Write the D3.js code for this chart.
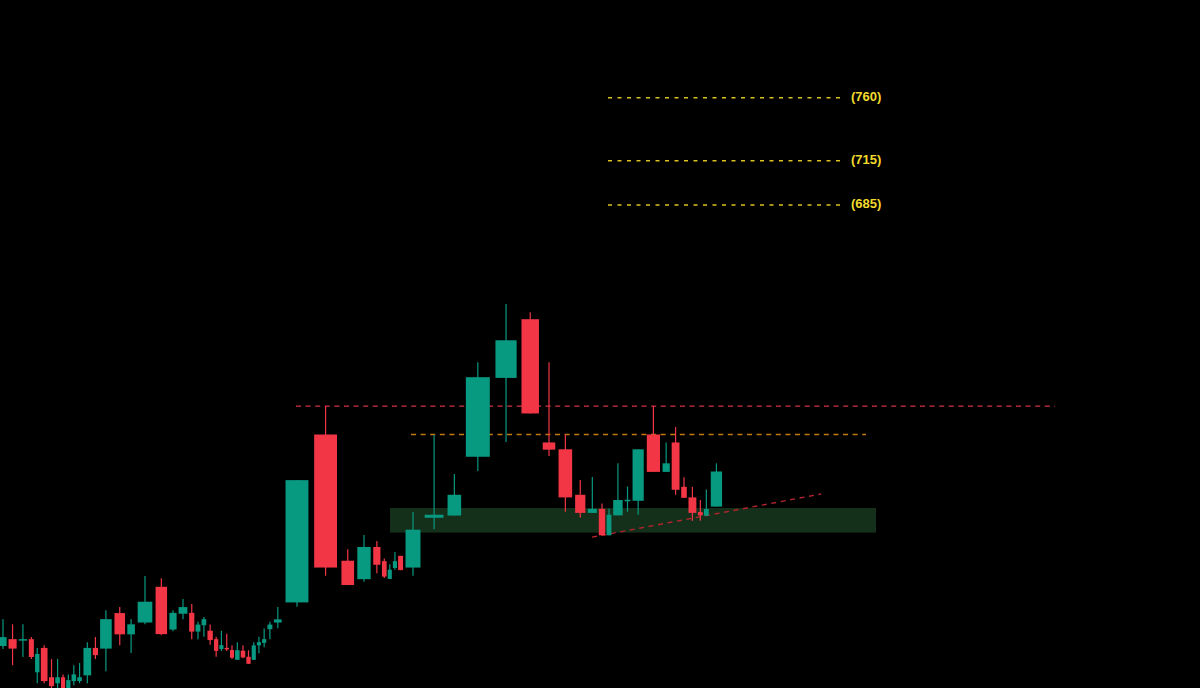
<!DOCTYPE html>
<html><head><meta charset="utf-8">
<script src="https://cdn.jsdelivr.net/npm/d3@7"></script>
<style>html,body{margin:0;padding:0;background:#000;overflow:hidden}</style>
</head><body><svg id="chart" width="1200" height="688"></svg>
<script>
// Equivolume candles: width of each candle follows its volume
const volume=[9,10.15,10.55,6.3,5.5,8.35,6.35,5.8,5.15,5.35,5.65,5.85,9.65,6.5,14.5,13.2,9.5,18.3,14.35,9,11,6.5,6,5.8,6.7,5.3,5.2,5.5,5,5.65,5.65,5.4,5.15,5.15,5.3,6.2,9.65,28.65,28.55,15.8,16.7,9,5.85,5.15,5.15,6.15,18.7,23.5,17,29.95,26.5,21.85,15.7,17,12.8,11.35,8,6,11.85,7.3,14,16.5,9.05,9.8,7,9.85,6,6,14.15];
const open=[446.9,449.9,449.5,449.9,435.7,446.1,433.6,431.1,433.6,429.1,432.0,432.0,434.4,446.1,445.8,461.4,452.0,457.2,473.3,454.1,461.1,461.5,453.2,456.0,453.6,449.9,445.6,446.1,445.2,441.0,444.9,442.3,441.0,447.2,448.3,454.3,457.2,466.2,548.5,485.4,476.8,491.9,485.2,476.9,482.0,487.7,482.2,506.0,507.1,536.8,579.4,613.3,544.3,540.7,517.4,508.4,510.4,497.5,507.2,514.6,514.4,548.5,529.0,544.3,521.4,516.1,508.8,507.0,511.5];
const high=[458.7,456.4,456.4,450.8,446.1,447.3,441.3,441.3,434.8,434.8,438.7,439.6,448.6,450.8,462.7,464.1,458.7,478.3,477.2,462.7,467.7,465.5,457.5,459.6,456.3,450.9,453.6,452.3,447.3,448.6,447.3,445.1,448.6,451.0,454.6,457.5,464.1,524.8,563.8,490.8,497.6,494.7,486.5,483.8,489.5,487.7,508.8,548.3,527.9,588.3,622.4,617.5,588.3,548.7,524.9,526.4,513.1,510.4,533.4,521.6,540.7,563.8,544.3,552.5,526.3,521.4,514.8,520.0,533.4];
const low=[445.6,438.7,442.2,441.3,431.1,431.1,429.1,428.3,428.3,428.3,430.3,431.1,431.1,441.3,436.1,447.3,443.9,456.4,451.7,453.4,458.7,449.9,449.9,451.0,447.5,442.3,444.8,444.8,441.3,440.9,441.7,439.2,440.9,443.8,446.4,449.9,454.7,464.2,478.4,474.1,475.6,479.6,477.4,476.9,481.2,481.0,478.4,500.4,507.1,529.5,544.5,559.8,537.2,509.0,506.1,508.4,497.5,497.5,507.2,509.0,507.5,529.0,529.0,517.4,515.9,504.5,504.5,507.0,511.5];
const close=[450.8,445.8,449.9,442.2,443.5,432.0,429.9,433.6,429.1,432.4,434.8,433.6,446.1,443.0,458.7,452.0,456.4,466.5,452.1,461.5,464.1,453.2,456.3,458.7,449.5,444.8,447.3,445.6,441.9,445.1,442.0,439.3,447.2,448.6,449.9,456.3,458.6,524.8,482.2,474.1,491.9,483.5,478.0,481.2,485.2,481.0,500.2,507.5,517.4,579.8,600.9,559.8,540.5,516.1,508.4,510.4,497.5,507.5,514.8,514.9,540.7,529.0,533.4,519.9,515.9,508.4,507.2,510.3,529.2];

// Price targets (top right)
const targetLevels=[760,715,685];
const targetLabels=["(760)","(715)","(685)"];
// Annotation levels (price) and anchor positions (cumulative-volume units)
const resistanceLevel=563.8, resistanceSpan=[297.5,1056.5];
const pivotLevel=548.5, pivotSpan=[412.5,867.5];
const demandZone=[498.8,510.8], zoneSpan=[391.5,877.5];
const trendStart=[593.5,496.6], trendEnd=[822.5,517.8];
const targetSpan=[609.5,841.5], targetLabelAt=852.5;

const W=1200,H=688;
const svg=d3.select("#chart");
svg.append("rect").attr("width",W).attr("height",H).attr("fill","#000");

const cum=[0];
volume.forEach(v=>cum.push(cum[cum.length-1]+v));
const total=cum[cum.length-1];
const x=d3.scaleLinear().domain([0,total]).range([-1.5,-1.5+total]);
const y=d3.scaleLog().domain([760,685]).range([97.7,205]);

const candles=volume.map((v,i)=>({v,start:cum[i],o:open[i],h:high[i],l:low[i],c:close[i]}));

// demand zone
svg.append("rect")
  .attr("x",x(zoneSpan[0])).attr("width",x(zoneSpan[1])-x(zoneSpan[0]))
  .attr("y",y(demandZone[1])).attr("height",y(demandZone[0])-y(demandZone[1]))
  .attr("fill","#15301a");

// resistance line
svg.append("line")
  .attr("x1",x(resistanceSpan[0])).attr("x2",x(resistanceSpan[1]))
  .attr("y1",y(resistanceLevel)).attr("y2",y(resistanceLevel))
  .attr("stroke","#d23440").attr("stroke-width",1.3).attr("stroke-dasharray","5,4.6");
// pivot line
svg.append("line")
  .attr("x1",x(pivotSpan[0])).attr("x2",x(pivotSpan[1]))
  .attr("y1",y(pivotLevel)).attr("y2",y(pivotLevel))
  .attr("stroke","#c47a12").attr("stroke-width",1.4).attr("stroke-dasharray","5,4.6");
// trend line
svg.append("line")
  .attr("x1",x(trendStart[0])).attr("y1",y(trendStart[1]))
  .attr("x2",x(trendEnd[0])).attr("y2",y(trendEnd[1]))
  .attr("stroke","#b3242f").attr("stroke-width",1.4).attr("stroke-dasharray","5,4.6");

// targets
const tg=svg.append("g");
targetLevels.forEach((p,i)=>{
  tg.append("line").attr("x1",x(targetSpan[0])).attr("x2",x(targetSpan[1]))
    .attr("y1",y(p)).attr("y2",y(p))
    .attr("stroke","#d9c21f").attr("stroke-width",1.5).attr("stroke-dasharray","4,5.5");
  tg.append("text").attr("x",x(targetLabelAt)).attr("y",y(p))
    .attr("dominant-baseline","middle")
    .attr("font-family","'Liberation Sans', Arial, sans-serif").attr("font-weight","bold")
    .attr("font-size",13).attr("fill","#f2da2a").text(targetLabels[i]);
});

// candles
const up="#089981", down="#f23645";
const g=svg.append("g");
const cg=g.selectAll("g.c").data(candles).join("g").attr("class","c");
cg.append("line")
  .attr("x1",d=>x(d.start+d.v/2)).attr("x2",d=>x(d.start+d.v/2))
  .attr("y1",d=>y(d.h)).attr("y2",d=>y(d.l))
  .attr("stroke",d=>d.c>=d.o?up:down).attr("stroke-width",1.2);
cg.append("rect")
  .attr("x",d=>x(d.start+d.v*0.1)).attr("width",d=>x(d.start+d.v*0.9)-x(d.start+d.v*0.1))
  .attr("y",d=>y(Math.max(d.o,d.c)))
  .attr("height",d=>Math.max(1.5,y(Math.min(d.o,d.c))-y(Math.max(d.o,d.c))))
  .attr("fill",d=>d.c>=d.o?up:down);
</script></body></html>
